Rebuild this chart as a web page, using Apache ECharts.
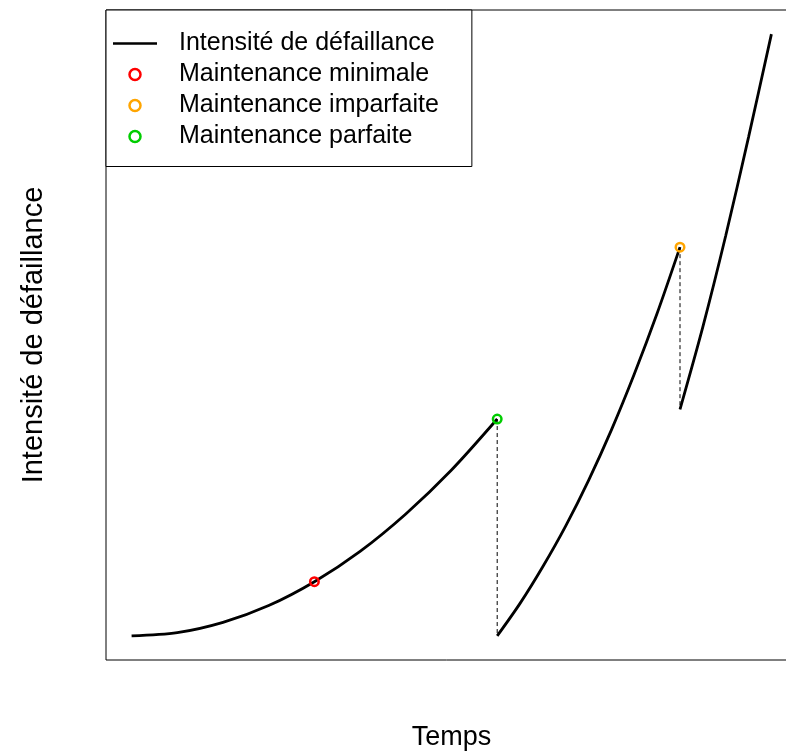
<!DOCTYPE html>
<html>
<head>
<meta charset="utf-8">
<script src="https://cdn.jsdelivr.net/npm/echarts@6/dist/echarts.min.js"></script>
<style>
  html, body { margin: 0; padding: 0; background: #fff; }
  #chart { width: 786px; height: 751px; }
</style>
</head>
<body>
<div id="chart"></div>
<script>
// Failure intensity over time, with three maintenance events.
// Time is in arbitrary units (axis ticks are not drawn).
const segmentBeforePerfect = [
  [0, 0], [0.25, 0.06], [0.5, 0.25], [0.75, 0.56], [1, 1],
  [1.25, 1.56], [1.5, 2.25], [1.75, 3.06], [2, 4]
];
const segmentAfterPerfect = [
  [2, 0], [2.125, 0.6], [2.25, 1.28], [2.375, 2.03], [2.5, 2.87],
  [2.625, 3.8], [2.75, 4.83], [2.875, 5.95], [3, 7.17]
];
const segmentAfterImperfect = [
  [3, 4.18], [3.125, 5.7], [3.25, 7.38], [3.375, 9.2], [3.5, 11.1]
];
const minimalMaintenance = [[1, 1]];
const perfectMaintenance = [[2, 4]];
const imperfectMaintenance = [[3, 7.17]];
const dropAtPerfect = [[2, 4], [2, 0]];
const dropAtImperfect = [[3, 7.17], [3, 4.18]];

const xRange = [-0.14, 3.64];
const yRange = [-0.444, 11.544];

const FONT = "'Liberation Sans', Arial, Helvetica, sans-serif";
const CURVE = 'Intensité de défaillance';
const MIN = 'Maintenance minimale';
const IMP = 'Maintenance imparfaite';
const PERF = 'Maintenance parfaite';

const RED = '#ff0000', ORANGE = '#ffa500', GREEN = '#00cd00';

// Legend key for the curve: a thin bar across the 44x11 key box
// (two tiny corner dots fix the box height so the bar stays thin).
const LINE_KEY = 'path://M0,4.3 H44 V6.7 H0 Z M0,0 H0.01 V0.01 H0 Z M43.99,10.99 H44 V11 H43.99 Z';

function curve(data) {
  return {
    name: CURVE, type: 'line', data: data, smooth: 0.3,
    symbol: 'none', showSymbol: false,
    lineStyle: { color: '#000', width: 2.8 },
    itemStyle: { color: '#000' }, z: 3
  };
}
function drop(data) {
  return {
    name: 'drop', type: 'line', data: data, symbol: 'none', showSymbol: false,
    lineStyle: { color: '#000', width: 1, type: [4, 3] }, z: 2
  };
}
function marker(name, color, data) {
  return {
    name: name, type: 'scatter', data: data, symbol: 'circle', symbolSize: 8.5,
    itemStyle: { color: 'rgba(0,0,0,0)', borderColor: color, borderWidth: 2.5, opacity: 1 }, z: 5
  };
}
function circleKey(name, color) {
  return { name: name, icon: 'circle', itemStyle: { color: '#fff', borderColor: color, borderWidth: 2.5, opacity: 1 } };
}

const chart = echarts.init(document.getElementById('chart'), null, { renderer: 'canvas' });
chart.setOption({
  animation: false,
  backgroundColor: '#fff',
  grid: {
    left: 106, top: 10, width: 691, height: 650,
    outerBoundsMode: 'none', containLabel: false,
    show: true, borderColor: '#000', borderWidth: 1, backgroundColor: 'transparent'
  },
  xAxis: {
    type: 'value', min: xRange[0], max: xRange[1],
    axisLine: { show: false }, axisTick: { show: false },
    axisLabel: { show: false }, splitLine: { show: false },
    name: 'Temps', nameLocation: 'middle', nameGap: 64,
    nameTextStyle: { fontFamily: FONT, fontSize: 27, color: '#000' }
  },
  yAxis: {
    type: 'value', min: yRange[0], max: yRange[1],
    axisLine: { show: false }, axisTick: { show: false },
    axisLabel: { show: false }, splitLine: { show: false },
    name: 'Intensité de défaillance', nameLocation: 'middle', nameGap: 58,
    nameTextStyle: { fontFamily: FONT, fontSize: 29, color: '#000' }
  },
  legend: {
    orient: 'vertical', left: 106, top: 10,
    padding: [18.5, 33, 15, 7],
    itemGap: 1, itemWidth: 44, itemHeight: 11,
    selectedMode: false,
    backgroundColor: '#fff', borderColor: '#000', borderWidth: 1,
    textStyle: { fontFamily: FONT, fontSize: 25, color: '#000', lineHeight: 30, padding: [0, 0, 0, 17] },
    data: [
      { name: CURVE, icon: LINE_KEY, itemStyle: { color: '#000', borderWidth: 0, opacity: 1 } },
      circleKey(MIN, RED),
      circleKey(IMP, ORANGE),
      circleKey(PERF, GREEN)
    ]
  },
  series: [
    drop(dropAtPerfect),
    drop(dropAtImperfect),
    curve(segmentBeforePerfect),
    curve(segmentAfterPerfect),
    curve(segmentAfterImperfect),
    marker(MIN, RED, minimalMaintenance),
    marker(IMP, ORANGE, imperfectMaintenance),
    marker(PERF, GREEN, perfectMaintenance)
  ]
});
</script>
</body>
</html>
